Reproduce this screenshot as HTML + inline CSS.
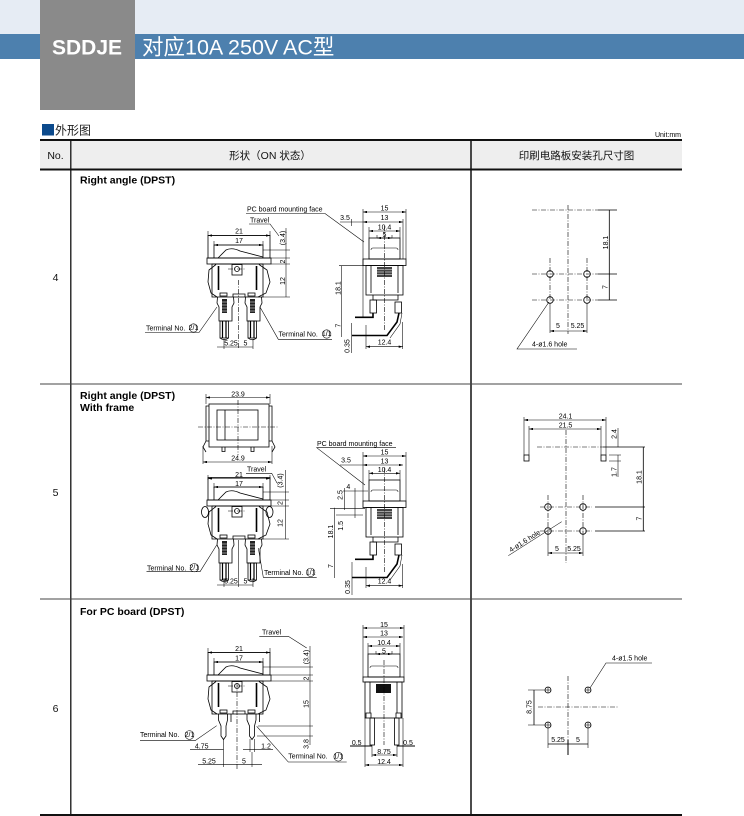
<!DOCTYPE html>
<html><head><meta charset="utf-8">
<style>
html,body{margin:0;padding:0;background:#fff;}
body{width:744px;height:816px;overflow:hidden;position:relative;}
svg{position:absolute;left:0;top:0;}
.l{stroke:#000;stroke-width:0.8;fill:none;}
.th{stroke:#000;stroke-width:0.55;fill:none;}
.d{stroke:#000;stroke-width:0.55;fill:none;marker-start:url(#a);marker-end:url(#a);}
.dd{stroke:#000;stroke-width:0.6;fill:none;stroke-dasharray:5 1.5 1 1.5;}
.t{font-family:"Liberation Sans",sans-serif;font-size:7px;fill:#000;}
.tm{text-anchor:middle;}
.b{font-family:"Liberation Sans",sans-serif;font-size:10.5px;font-weight:bold;fill:#000;}
.h{font-family:"Liberation Sans","Noto Sans CJK SC",sans-serif;font-size:10.5px;fill:#111;text-anchor:middle;}
</style></head><body>
<svg width="744" height="816" viewBox="0 0 744 816">
<defs>
<marker id="a" markerWidth="4" markerHeight="2.4" refX="4" refY="1.2" orient="auto-start-reverse" markerUnits="userSpaceOnUse"><path d="M0,0 L4,1.2 L0,2.4z" fill="#000"/></marker>
<g id="fv">
<rect x="208" y="235.5" width="62" height="22.5" class="l"/>
<rect x="207" y="258" width="64" height="6" class="l"/>
<path d="M214 258V245H263V258" class="l"/>
<path d="M218 258L226 250Q232 247 240 251L263 257" class="l"/>
<rect x="212" y="264" width="51" height="33" class="l"/>
<path d="M216 264.5L209 270L208 282L211 293L217 297" class="l"/>
<path d="M259 264.5L267 270L270 282L266 293L258 297" class="l"/>
<path d="M218.5 266V290M256.5 266V290" stroke="#000" stroke-width="1.6"/>
<rect x="232" y="264.5" width="10" height="10.5" class="l"/>
<circle cx="237" cy="269" r="2.5" class="l"/>
<path d="M228 269H246" class="dd"/>
<rect x="220" y="293" width="7" height="3" class="l"/>
<rect x="248" y="293" width="7" height="3" class="l"/>
<path d="M233 297V294H245V297" class="l"/>
</g>
<g id="tm">
<path d="M217.5 297L217 303L219 307V321H232V307L234 303L233.5 297" class="l"/>
<rect x="222" y="299" width="5" height="14" fill="#222"/>
<path d="M222 302H227M222 305H227M222 308H227M222 311H227" stroke="#fff" stroke-width="0.6"/>
<rect x="220" y="321" width="8.5" height="17" class="l"/>
<path d="M222.5 321V338M226 321V338" stroke="#000" stroke-width="1.2"/>
<path d="M220 338Q224.2 341.5 228.5 338" class="l"/>
</g>
<g id="sv">
<rect x="369" y="238" width="31" height="21" class="l"/>
<path d="M371 250Q371 248 373 248H396Q398 248 398 250" class="th"/>
<rect x="363" y="259" width="43" height="6.5" class="l"/>
<rect x="366" y="265.5" width="37" height="29.5" class="l"/>
<path d="M371 265.5V293M398 265.5V293" class="l"/>
<rect x="377" y="267" width="15" height="10" fill="#444"/>
<path d="M377 269.5H392M377 272H392M377 274.5H392" stroke="#fff" stroke-width="0.6"/>
<path d="M373 295V300H398V295" class="l"/>
<rect x="370" y="300" width="6.5" height="13" class="l"/>
<rect x="395" y="302" width="6.5" height="11" class="l"/>
<path d="M373 313V317.3H355" stroke="#000" stroke-width="1.6" fill="none"/>
<path d="M399 313L397 322L387 335.5H352" stroke="#000" stroke-width="1.6" fill="none"/>
<path d="M402 313L400 324L390 338" class="th"/>
<line x1="384.5" y1="226" x2="384.5" y2="330" class="dd"/>
</g>
<g id="tp">
<path d="M218.5 714V720L221 726V736L223.5 739.5L226 736V726L227.5 720V714" class="l"/>
<path d="M231 714V722" class="l"/>
</g>
</defs>

<!-- header -->
<rect x="0" y="0" width="744" height="34" fill="#e6ecf4"/>
<rect x="0" y="34" width="744" height="25" fill="#4d80ae"/>
<rect x="40" y="0" width="95" height="110" fill="#8a8a8a"/>
<text x="87" y="54.5" text-anchor="middle" font-family="Liberation Sans,sans-serif" font-weight="bold" font-size="21" fill="#fff">SDDJE</text>
<text x="142" y="54.5" font-family="Liberation Sans,Noto Sans CJK SC,sans-serif" font-size="21.5" fill="#fff">对应10A 250V AC型</text>

<rect x="42" y="124" width="12" height="11.5" fill="#0c4a8c"/>
<text x="55" y="134.5" font-family="Liberation Sans,Noto Sans CJK SC,sans-serif" font-size="12" fill="#222">外形图</text>
<text x="681" y="137" text-anchor="end" class="t" font-size="6.5">Unit:mm</text>

<!-- table -->
<rect x="40" y="141" width="642" height="28" fill="#eeeeee"/>
<line x1="40" y1="140" x2="682" y2="140" stroke="#111" stroke-width="2"/>
<line x1="40" y1="169.5" x2="682" y2="169.5" stroke="#111" stroke-width="2"/>
<line x1="70.8" y1="140" x2="70.8" y2="815" stroke="#111" stroke-width="1.3"/>
<line x1="471" y1="140" x2="471" y2="815" stroke="#111" stroke-width="1.5"/>
<line x1="40" y1="384" x2="682" y2="384" stroke="#444" stroke-width="1"/>
<line x1="40" y1="599" x2="682" y2="599" stroke="#444" stroke-width="1"/>
<line x1="40" y1="815" x2="682" y2="815" stroke="#111" stroke-width="2"/>
<text x="55.5" y="159" class="h">No.</text>
<text x="270" y="159" class="h">形状（ON 状态）</text>
<text x="576.5" y="159" class="h">印刷电路板安装孔尺寸图</text>
<text x="55.5" y="281" class="h" font-size="10">4</text>
<text x="55.5" y="496" class="h" font-size="10">5</text>
<text x="55.5" y="712" class="h" font-size="10">6</text>

<!-- ROW 4 -->
<text x="80" y="183.5" class="b">Right angle (DPST)</text>
<use href="#fv"/>
<use href="#tm"/>
<use href="#tm" x="28"/>
<path d="M208 231V236M270 231V236M214 241V245M263 241V245" class="th"/>
<line x1="208" y1="235.5" x2="270" y2="235.5" class="d"/>
<line x1="214" y1="245" x2="263" y2="245" class="d"/>
<text x="239" y="233.5" class="t tm">21</text>
<text x="239" y="243" class="t tm">17</text>
<path d="M263 250H290M271 258H290M271 264H290M263 297H290" class="th"/>
<line x1="286" y1="228" x2="286" y2="297" class="th"/>
<text transform="translate(285,238) rotate(-90)" class="t tm">(3.4)</text>
<text transform="translate(285,261.5) rotate(-90)" class="t tm">2</text>
<text transform="translate(285,281) rotate(-90)" class="t tm">12</text>
<text x="250" y="222.5" class="t">Travel</text>
<path d="M249 224H270L279 236" class="th"/>
<line x1="238.5" y1="280" x2="238.5" y2="349" class="dd"/>
<path d="M224 339V349M253 339V349" class="th"/>
<line x1="217" y1="347" x2="253" y2="347" class="th"/>
<text x="231" y="345.5" class="t tm">5.25</text>
<text x="245.5" y="345.5" class="t tm">5</text>
<text x="146" y="330.5" class="t">Terminal No.</text>
<circle cx="193.5" cy="328" r="4.2" class="th"/>
<text x="193.5" y="330" class="t tm" font-size="5">2/1</text>
<path d="M145 332.5H199L217 307" class="th"/>
<text x="278.5" y="336.5" class="t">Terminal No.</text>
<circle cx="326.7" cy="334" r="4.2" class="th"/>
<text x="326.7" y="336" class="t tm" font-size="5">1/1</text>
<path d="M332 339.3H278.3L260 307" class="th"/>

<use href="#sv"/>
<path d="M363 209V318M406 209V259M369 227V238M400 227V238M377 235V238M392 235V238M403 219V259" class="th"/>
<line x1="363" y1="212" x2="406" y2="212" class="d"/>
<line x1="363" y1="222" x2="403" y2="222" class="d"/>
<line x1="369" y1="231" x2="400" y2="231" class="d"/>
<line x1="377" y1="238" x2="392" y2="238" class="d"/>
<text x="384.5" y="210.5" class="t tm">15</text>
<text x="384.5" y="220" class="t tm">13</text>
<text x="384.5" y="229.5" class="t tm">10.4</text>
<text x="384.5" y="237" class="t tm">5</text>
<text x="345" y="220" class="t tm">3.5</text>
<path d="M340 222H363M351.7 219V226" class="th"/>
<text x="247" y="211.5" class="t">PC board mounting face</text>
<path d="M246 213.5H325L364 242" class="th"/>
<path d="M339 265.7H363" class="th"/>
<line x1="341.7" y1="265.7" x2="341.7" y2="337" class="th"/>
<text transform="translate(340.5,288) rotate(-90)" class="t tm">18.1</text>
<text transform="translate(340.5,325.5) rotate(-90)" class="t tm">7</text>
<text transform="translate(349.5,346) rotate(-90)" class="t tm">0.35</text>
<line x1="351.7" y1="323" x2="351.7" y2="353" class="th"/>
<path d="M366 325V349M402.7 322V349" class="th"/>
<line x1="366" y1="346.7" x2="402.7" y2="346.7" class="d"/>
<text x="384.5" y="344.5" class="t tm">12.4</text>

<!-- row 4 holes -->
<line x1="532" y1="210" x2="598" y2="210" class="dd"/>
<line x1="598" y1="210" x2="617" y2="210" class="l"/>
<line x1="568" y1="205" x2="568" y2="334" class="dd"/>
<line x1="609.3" y1="210" x2="609.3" y2="300" class="l"/>
<line x1="532" y1="274" x2="598" y2="274" class="dd"/>
<line x1="598" y1="274" x2="617" y2="274" class="l"/>
<line x1="532" y1="300" x2="598" y2="300" class="dd"/>
<line x1="598" y1="300" x2="617" y2="300" class="l"/>
<line x1="550" y1="258" x2="550" y2="300" class="dd"/>
<line x1="587" y1="258" x2="587" y2="300" class="dd"/>
<g class="l"><circle cx="550" cy="274" r="3.3"/><circle cx="587" cy="274" r="3.3"/><circle cx="550" cy="300" r="3.3"/><circle cx="587" cy="300" r="3.3"/></g>
<path d="M550 303V333M587 303V333" class="th"/>
<line x1="550" y1="331" x2="587" y2="331" class="d"/>
<text x="558" y="328" class="t tm">5</text>
<text x="577.5" y="328" class="t tm">5.25</text>
<text transform="translate(608,242.5) rotate(-90)" class="t tm">18.1</text>
<text transform="translate(607.5,287) rotate(-90)" class="t tm">7</text>
<text x="532" y="346.5" class="t">4-ø1.6 hole</text>
<path d="M577 349H517L549 302" class="th"/>

<!-- ROW 5 -->
<text x="80" y="399" class="b">Right angle (DPST)</text>
<text x="80" y="411" class="b">With frame</text>
<path d="M206 394V404M270 394V404" class="th"/>
<line x1="206" y1="397.5" x2="270" y2="397.5" class="d"/>
<text x="238" y="396.5" class="t tm">23.9</text>
<rect x="209" y="404" width="60" height="43" class="l"/>
<path d="M209 406H206V441H209M269 406H272V441H269" class="l"/>
<rect x="217" y="410" width="41" height="30" class="l" stroke-width="1.2"/>
<line x1="225" y1="410" x2="225" y2="440" class="l"/>
<line x1="198" y1="427" x2="278" y2="427" class="dd"/>
<line x1="238" y1="400" x2="238" y2="455" class="dd"/>
<path d="M222 447V451.5H225V447M251 447V451.5H254V447" class="l"/>
<path d="M206 441L203 447L206 452M272 441L275 447L272 452" class="l"/>
<path d="M203 446V464M272 446V464" class="th"/>
<line x1="203" y1="462" x2="272" y2="462" class="d"/>
<text x="238" y="460.5" class="t tm">24.9</text>
<use href="#fv" y="242"/>
<use href="#tm" y="242"/>
<use href="#tm" x="28" y="242"/>
<ellipse cx="205" cy="512" rx="3.5" ry="5.5" class="l"/>
<ellipse cx="269.5" cy="512" rx="3.5" ry="5.5" class="l"/>
<path d="M208 475V480M270 475V480M214 483V488M263 483V488" class="th"/>
<line x1="208" y1="478.5" x2="270" y2="478.5" class="d"/>
<line x1="214" y1="487" x2="263" y2="487" class="d"/>
<text x="239" y="477" class="t tm">21</text>
<text x="239" y="485.8" class="t tm">17</text>
<path d="M263 492H289M271 500H289M271 506H289M263 539H289" class="th"/>
<line x1="285.5" y1="470" x2="285.5" y2="539" class="th"/>
<text transform="translate(282.5,480.5) rotate(-90)" class="t tm">(3.4)</text>
<text transform="translate(282.5,503) rotate(-90)" class="t tm">2</text>
<text transform="translate(282.5,523) rotate(-90)" class="t tm">12</text>
<text x="247" y="471.5" class="t">Travel</text>
<path d="M246 473.3H271.7L277 483" class="th"/>
<path d="M224 578V587M238.5 540V587M253 578V587" class="th"/>
<line x1="217" y1="585" x2="253" y2="585" class="th"/>
<text x="231" y="583.5" class="t tm">5.25</text>
<text x="245.5" y="583.5" class="t tm">5</text>
<text x="147" y="570.5" class="t">Terminal No.</text>
<circle cx="194.3" cy="567.7" r="4.2" class="th"/>
<text x="194.3" y="569.7" class="t tm" font-size="5">2/1</text>
<path d="M146.5 571.7H200L216.7 545" class="th"/>
<text x="264" y="575" class="t">Terminal No.</text>
<circle cx="310.7" cy="572.3" r="4.2" class="th"/>
<text x="310.7" y="574.3" class="t tm" font-size="5">1/1</text>
<path d="M316.7 577.3H263.3L258.3 548" class="th"/>
<use href="#sv" y="242"/>
<path d="M363 452V501M406 452V501M369 470V480M400 470V480" class="th"/>
<line x1="363" y1="456" x2="406" y2="456" class="d"/>
<line x1="363" y1="465" x2="403" y2="465" class="d"/>
<line x1="369" y1="473.3" x2="400" y2="473.3" class="d"/>
<text x="384.5" y="454.5" class="t tm">15</text>
<text x="384.5" y="463.3" class="t tm">13</text>
<text x="384.5" y="471.8" class="t tm">10.4</text>
<text x="346" y="462.5" class="t tm">3.5</text>
<path d="M340 465H363" class="th"/>
<text x="317" y="446" class="t">PC board mounting face</text>
<path d="M396 447.7H316.7L365 485" class="th"/>
<text x="348.3" y="489" class="t tm">4</text>
<path d="M343 491H368M355 488V518M344.3 488V510" class="th"/>
<text transform="translate(342.7,495) rotate(-90)" class="t tm">2.5</text>
<path d="M330 508.3H365M336 515H363" class="th"/>
<text transform="translate(343,525.8) rotate(-90)" class="t tm">1.5</text>
<line x1="334.3" y1="507.7" x2="334.3" y2="578" class="th"/>
<text transform="translate(333,531.5) rotate(-90)" class="t tm">18.1</text>
<text transform="translate(333,566) rotate(-90)" class="t tm">7</text>
<text transform="translate(350,587) rotate(-90)" class="t tm">0.35</text>
<line x1="352" y1="562" x2="352" y2="595" class="th"/>
<path d="M366 567V588M402.7 564V588" class="th"/>
<line x1="366" y1="585.7" x2="402.7" y2="585.7" class="d"/>
<text x="384.5" y="583.5" class="t tm">12.4</text>
<!-- row 5 holes -->
<path d="M524 417V455M529 426V455M601 426V455M606 417V455" class="th"/>
<line x1="524" y1="420" x2="606" y2="420" class="d"/>
<line x1="529" y1="429" x2="601" y2="429" class="d"/>
<text x="565.5" y="418.5" class="t tm">24.1</text>
<text x="565.5" y="427.5" class="t tm">21.5</text>
<rect x="524" y="455" width="5" height="6" class="l"/>
<rect x="601" y="455" width="5" height="6" class="l"/>
<line x1="537" y1="447" x2="603" y2="447" class="dd"/>
<line x1="603" y1="447" x2="645" y2="447" class="l"/>
<path d="M618 428V447M618 455V477M609 455H621M609 461H621" class="th"/>
<text transform="translate(616.7,434) rotate(-90)" class="t tm">2.4</text>
<text transform="translate(616.7,472) rotate(-90)" class="t tm">1.7</text>
<line x1="643.3" y1="447" x2="643.3" y2="531" class="l"/>
<text transform="translate(641.7,477) rotate(-90)" class="t tm">18.1</text>
<text transform="translate(641.7,518.5) rotate(-90)" class="t tm">7</text>
<line x1="540" y1="507" x2="592" y2="507" class="dd"/>
<line x1="595" y1="507" x2="645" y2="507" class="l"/>
<line x1="540" y1="531" x2="592" y2="531" class="dd"/>
<line x1="595" y1="531" x2="645" y2="531" class="l"/>
<line x1="548" y1="495" x2="548" y2="534" class="dd"/>
<line x1="583" y1="495" x2="583" y2="534" class="dd"/>
<line x1="566" y1="430" x2="566" y2="563" class="dd"/>
<g class="l"><circle cx="548" cy="507" r="3.3"/><circle cx="583" cy="507" r="3.3"/><circle cx="548" cy="531" r="3.3"/><circle cx="583" cy="531" r="3.3"/></g>
<path d="M548 534V556M583 534V556" class="th"/>
<line x1="548" y1="553" x2="583" y2="553" class="d"/>
<text x="557" y="551" class="t tm">5</text>
<text x="574" y="551" class="t tm">5.25</text>
<path d="M508.3 555.7L561.7 521.7" class="th"/>
<text transform="translate(511,552.5) rotate(-32.5)" class="t">4-ø1.6 hole</text>

<!-- ROW 6 -->
<text x="80" y="615" class="b">For PC board (DPST)</text>
<use href="#fv" y="417"/>
<use href="#tp"/>
<use href="#tp" x="28.5"/>
<line x1="237" y1="683" x2="237" y2="770" class="dd"/>
<path d="M208 648V653M270 648V653M214 658V662M263 658V662" class="th"/>
<line x1="208" y1="652.5" x2="270" y2="652.5" class="d"/>
<line x1="214" y1="662" x2="263" y2="662" class="d"/>
<text x="239" y="651" class="t tm">21</text>
<text x="239" y="660.5" class="t tm">17</text>
<path d="M263 667H313M271 675H313M271 681H313M258 726H313M257 736H313" class="th"/>
<line x1="310" y1="646" x2="310" y2="745" class="th"/>
<text transform="translate(308.3,657) rotate(-90)" class="t tm">(3.4)</text>
<text transform="translate(308.3,678.5) rotate(-90)" class="t tm">2</text>
<text transform="translate(308.3,704) rotate(-90)" class="t tm">15</text>
<text transform="translate(308.3,744) rotate(-90)" class="t tm">3.8</text>
<text x="262" y="634.5" class="t">Travel</text>
<path d="M259.3 636.3H288.3L306.7 648" class="th"/>
<text x="140" y="737" class="t">Terminal No.</text>
<circle cx="189.5" cy="735" r="4.4" class="th"/>
<text x="189.5" y="737" class="t tm" font-size="5">2/1</text>
<path d="M140 740.7H195L216.7 725.7" class="th"/>
<text x="288.3" y="758.5" class="t">Terminal No.</text>
<circle cx="338.3" cy="756.7" r="4.4" class="th"/>
<text x="338.3" y="758.7" class="t tm" font-size="5">1/1</text>
<path d="M346.7 762H288.3L256.7 726.3" class="th"/>
<path d="M223.5 739V767M250 739V752M254.5 739V752M252 752V767" class="th"/>
<line x1="190" y1="749.7" x2="223.5" y2="749.7" class="th"/>
<text x="201.7" y="748.5" class="t tm">4.75</text>
<line x1="243" y1="749.7" x2="273" y2="749.7" class="th"/>
<text x="266" y="748.5" class="t tm">1.2</text>
<line x1="198" y1="764.7" x2="262" y2="764.7" class="th"/>
<text x="209" y="763.5" class="t tm">5.25</text>
<text x="244" y="763.5" class="t tm">5</text>
<!-- row 6 side view -->
<rect x="368" y="654" width="32" height="23" class="l"/>
<path d="M370 668Q370 666 372 666H396Q398 666 398 668" class="th"/>
<rect x="363" y="677" width="41" height="5" class="l"/>
<rect x="365" y="682" width="37" height="36" class="l"/>
<path d="M370 682V713M397 682V713" class="l"/>
<rect x="376" y="684" width="15" height="9" fill="#111"/>
<path d="M366 718V713H371V718M396 718V713H401V718" class="l"/>
<rect x="370" y="718" width="4.5" height="27" class="l"/>
<rect x="394.5" y="718" width="4.5" height="27" class="l"/>
<line x1="384" y1="660" x2="384" y2="745" class="dd"/>
<path d="M363 625V677M404 625V677M368 643V654M400 643V654M376 651V654M392 651V654" class="th"/>
<line x1="363" y1="628" x2="404" y2="628" class="d"/>
<line x1="363" y1="637" x2="403" y2="637" class="d"/>
<line x1="368" y1="646" x2="400" y2="646" class="d"/>
<line x1="376" y1="654" x2="392" y2="654" class="d"/>
<text x="384" y="627" class="t tm">15</text>
<text x="384" y="635.5" class="t tm">13</text>
<text x="384" y="645" class="t tm">10.4</text>
<text x="384" y="653.5" class="t tm">5</text>
<path d="M365 718V767M403 718V767M372 745V757M397 745V757" class="th"/>
<path d="M350 746H372M397 746H415" stroke="#000" stroke-width="1"/>
<text x="356.7" y="745" class="t tm">0.5</text>
<text x="408" y="745" class="t tm">0.5</text>
<line x1="372" y1="755" x2="397" y2="755" class="d"/>
<text x="384" y="754" class="t tm">8.75</text>
<line x1="365" y1="765" x2="403" y2="765" class="d"/>
<text x="384" y="764" class="t tm">12.4</text>
<!-- row 6 holes -->
<line x1="568" y1="676" x2="568" y2="740" class="dd"/>
<line x1="568" y1="740" x2="568" y2="755" stroke="#000" stroke-width="1"/>
<line x1="538" y1="707" x2="618" y2="707" class="dd"/>
<g class="l"><circle cx="548" cy="690" r="3"/><circle cx="588" cy="690" r="3"/><circle cx="548" cy="725" r="3"/><circle cx="588" cy="725" r="3"/></g>
<path d="M545 690H551M548 687V693M585 690H591M588 687V693M545 725H551M548 722V728M585 725H591M588 722V728" class="th"/>
<path d="M528 690H545M528 725H545" class="th"/>
<line x1="534" y1="690" x2="534" y2="725" class="l"/>
<text transform="translate(531.7,707) rotate(-90)" class="t tm">8.75</text>
<path d="M548 728V748M588 728V748" class="th"/>
<line x1="548" y1="744" x2="588" y2="744" class="l"/>
<text x="558" y="742" class="t tm">5.25</text>
<text x="578" y="742" class="t tm">5</text>
<text x="612" y="660.5" class="t">4-ø1.5 hole</text>
<path d="M652 663H606L590 688" class="th"/>
</svg>
</body></html>
